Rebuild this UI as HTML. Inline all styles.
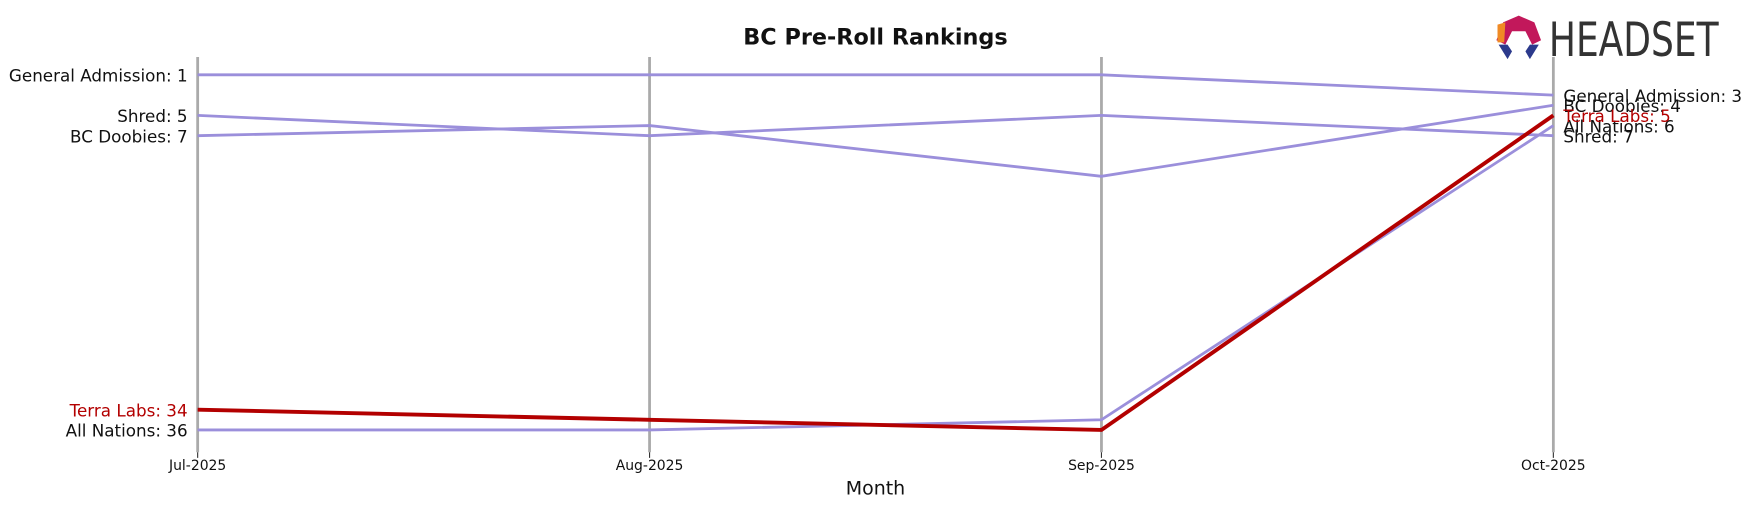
<!DOCTYPE html>
<html><head><meta charset="utf-8"><style>
body{margin:0;background:#fff;font-family:"Liberation Sans","DejaVu Sans",sans-serif}
svg{display:block}
svg text{font-family:"DejaVu Sans","Liberation Sans",sans-serif}
</style></head><body>
<svg id="chart" width="1751" height="507" viewBox="0 0 1568 454" preserveAspectRatio="none" xmlns="http://www.w3.org/2000/svg">
<rect width="1568" height="454" fill="#fff"/>
<text x="784" y="40" text-anchor="middle" font-size="20" font-weight="bold" fill="#111">BC Pre-Roll Rankings</text>
<text x="784" y="443" text-anchor="middle" font-size="17" fill="#111">Month</text>
<g>
<polygon points="1360,14 1374,20 1380,36 1372,40 1366,28 1354,28 1348,40 1340,36 1346,20" fill="#c2185b"/>
<polygon points="1341,22 1348,20 1347,38 1341,38" fill="#f08a24"/>
<polygon points="1342,40 1350,40 1354,46 1350,53" fill="#2c3a8c"/>
<polygon points="1378,40 1370,40 1366,46 1370,53" fill="#2c3a8c"/>
<text x="1387" y="50" font-size="42" font-family="Liberation Sans Narrow,Liberation Sans,sans-serif" fill="#333" textLength="152" lengthAdjust="spacingAndGlyphs">HEADSET</text>
</g>
<g id="axes"></g>
<g id="lines"></g>
<g id="labels"></g>
</svg>
<script>
const months=["Jul-2025","Aug-2025","Sep-2025","Oct-2025"];
const brands=["General Admission","Shred","BC Doobies","All Nations","Terra Labs"];
const gaRanks=[1,1,1,3];
const shredRanks=[5,7,5,7];
const doobiesRanks=[7,6,11,4];
const nationsRanks=[36,36,35,6];
const terraRanks=[34,35,36,5];
const series=[gaRanks,shredRanks,doobiesRanks,nationsRanks,terraRanks];
const NS="http://www.w3.org/2000/svg";
const x=i=>177+i*404.67;
const y=r=>67+(r-1)*(318/35);
function mk(t,a,p){const e=document.createElementNS(NS,t);for(const k in a)e.setAttribute(k,a[k]);p.appendChild(e);return e;}
const axes=document.getElementById('axes'),lines=document.getElementById('lines'),labels=document.getElementById('labels');
months.forEach((m,i)=>{
 const l=mk('line',{x1:x(i),x2:x(i),y1:51,y2:405,stroke:'#aaa','stroke-width':2.5},axes);
 
 
 const tk=mk('line',{x1:x(i),x2:x(i),y1:405,y2:410,stroke:'#333','stroke-width':1},axes);
 
 
 const t=mk('text',{x:x(i),y:421,'text-anchor':'middle','font-size':12.5,fill:'#111'},axes);
 t.textContent=m;
 
 
});
series.forEach((s,j)=>{
 const hl=brands[j]==="Terra Labs";
 const pts=s.map((r,i)=>x(i)+','+y(r)).join(' ');
 const pl=mk('polyline',{points:pts,fill:'none',stroke:hl?'#b30000':'#9b8fdb','stroke-width':hl?3.5:2.5},lines);
 
 
 const c=hl?'#b30000':'#111';
 const a=mk('text',{x:168,y:y(s[0])+6,'text-anchor':'end','font-size':15,fill:c},labels);
 a.textContent=brands[j]+': '+s[0];
 
 
 const b=mk('text',{x:1400,y:y(s[3])+6,'text-anchor':'start','font-size':15,fill:c},labels);
 b.textContent=brands[j]+': '+s[3];
 
 
});
lines.appendChild(lines.children[4]);
</script>
</body></html>
